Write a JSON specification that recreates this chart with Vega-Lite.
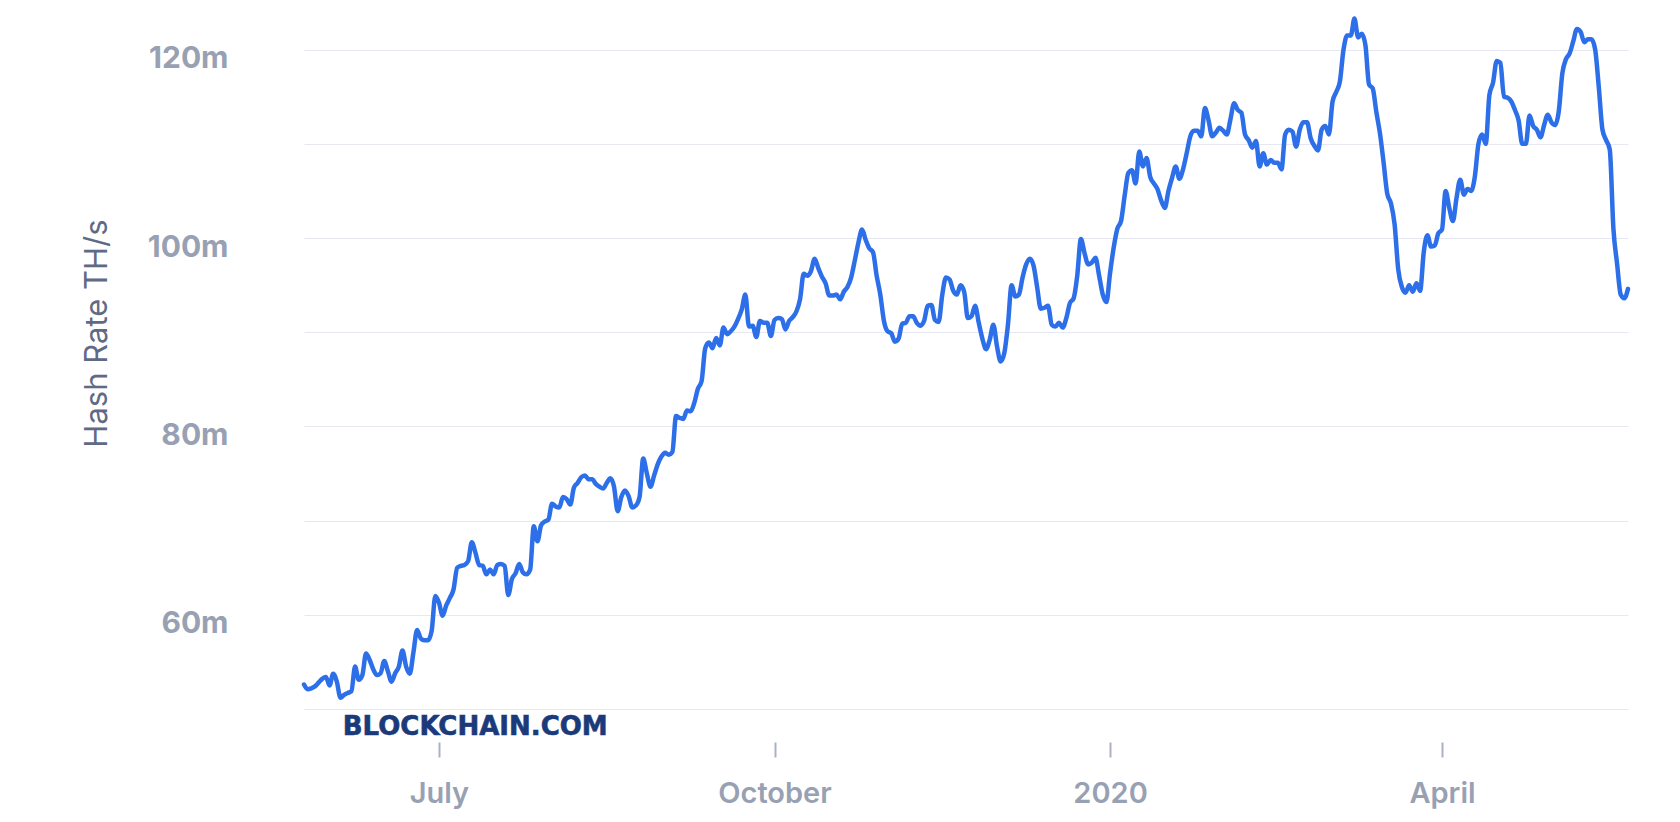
{
  "$schema": "https://vega.github.io/schema/vega-lite/v6.json",
  "width": 1324,
  "height": 697,
  "autosize": {"type": "none"},
  "padding": {"left": 304, "top": 12, "right": 52, "bottom": 113},
  "background": "white",
  "config": {"view": {"stroke": null}},
  "layer": [
    {
      "data": {"values": [
{"date":"2019-05-25","hashrate":52.6},{"date":"2019-05-26","hashrate":52.1},{"date":"2019-05-27","hashrate":52.2},{"date":"2019-05-28","hashrate":52.4},{"date":"2019-05-29","hashrate":52.8},{"date":"2019-05-30","hashrate":53.2},{"date":"2019-05-31","hashrate":53.4},
{"date":"2019-06-01","hashrate":52.5},{"date":"2019-06-02","hashrate":53.75},{"date":"2019-06-03","hashrate":52.9},{"date":"2019-06-04","hashrate":51.2},{"date":"2019-06-05","hashrate":51.5},{"date":"2019-06-06","hashrate":51.7},{"date":"2019-06-07","hashrate":51.9},{"date":"2019-06-08","hashrate":54.5},{"date":"2019-06-09","hashrate":53.1},{"date":"2019-06-10","hashrate":53.6},{"date":"2019-06-11","hashrate":55.9},{"date":"2019-06-12","hashrate":55.2},{"date":"2019-06-13","hashrate":54.2},{"date":"2019-06-14","hashrate":53.6},{"date":"2019-06-15","hashrate":53.8},{"date":"2019-06-16","hashrate":55.1},{"date":"2019-06-17","hashrate":54.0},{"date":"2019-06-18","hashrate":52.9},{"date":"2019-06-19","hashrate":53.8},{"date":"2019-06-20","hashrate":54.5},{"date":"2019-06-21","hashrate":56.2},{"date":"2019-06-22","hashrate":54.5},{"date":"2019-06-23","hashrate":53.75},{"date":"2019-06-24","hashrate":56.0},{"date":"2019-06-25","hashrate":58.4},{"date":"2019-06-26","hashrate":57.5},{"date":"2019-06-27","hashrate":57.3},{"date":"2019-06-28","hashrate":57.3},{"date":"2019-06-29","hashrate":58.3},{"date":"2019-06-30","hashrate":62.0},
{"date":"2019-07-01","hashrate":61.3},{"date":"2019-07-02","hashrate":59.9},{"date":"2019-07-03","hashrate":61.0},{"date":"2019-07-04","hashrate":61.8},{"date":"2019-07-05","hashrate":62.7},{"date":"2019-07-06","hashrate":65.0},{"date":"2019-07-07","hashrate":65.2},{"date":"2019-07-08","hashrate":65.3},{"date":"2019-07-09","hashrate":65.7},{"date":"2019-07-10","hashrate":67.7},{"date":"2019-07-11","hashrate":66.6},{"date":"2019-07-12","hashrate":65.3},{"date":"2019-07-13","hashrate":65.2},{"date":"2019-07-14","hashrate":64.3},{"date":"2019-07-15","hashrate":64.8},{"date":"2019-07-16","hashrate":64.3},{"date":"2019-07-17","hashrate":65.3},{"date":"2019-07-18","hashrate":65.4},{"date":"2019-07-19","hashrate":65.2},{"date":"2019-07-20","hashrate":62.1},{"date":"2019-07-21","hashrate":63.8},{"date":"2019-07-22","hashrate":64.4},{"date":"2019-07-23","hashrate":65.4},{"date":"2019-07-24","hashrate":64.5},{"date":"2019-07-25","hashrate":64.3},{"date":"2019-07-26","hashrate":64.8},{"date":"2019-07-27","hashrate":69.4},{"date":"2019-07-28","hashrate":67.8},{"date":"2019-07-29","hashrate":69.5},{"date":"2019-07-30","hashrate":69.9},{"date":"2019-07-31","hashrate":70.1},
{"date":"2019-08-01","hashrate":71.8},{"date":"2019-08-02","hashrate":71.5},{"date":"2019-08-03","hashrate":71.4},{"date":"2019-08-04","hashrate":72.5},{"date":"2019-08-05","hashrate":72.3},{"date":"2019-08-06","hashrate":71.7},{"date":"2019-08-07","hashrate":73.5},{"date":"2019-08-08","hashrate":74.0},{"date":"2019-08-09","hashrate":74.6},{"date":"2019-08-10","hashrate":74.8},{"date":"2019-08-11","hashrate":74.4},{"date":"2019-08-12","hashrate":74.4},{"date":"2019-08-13","hashrate":73.9},{"date":"2019-08-14","hashrate":73.6},{"date":"2019-08-15","hashrate":73.4},{"date":"2019-08-16","hashrate":74.0},{"date":"2019-08-17","hashrate":74.5},{"date":"2019-08-18","hashrate":73.6},{"date":"2019-08-19","hashrate":71.0},{"date":"2019-08-20","hashrate":72.5},{"date":"2019-08-21","hashrate":73.2},{"date":"2019-08-22","hashrate":72.6},{"date":"2019-08-23","hashrate":71.4},{"date":"2019-08-24","hashrate":71.6},{"date":"2019-08-25","hashrate":72.5},{"date":"2019-08-26","hashrate":76.6},{"date":"2019-08-27","hashrate":75.0},{"date":"2019-08-28","hashrate":73.6},{"date":"2019-08-29","hashrate":74.8},{"date":"2019-08-30","hashrate":76.0},{"date":"2019-08-31","hashrate":76.8},
{"date":"2019-09-01","hashrate":77.2},{"date":"2019-09-02","hashrate":77.0},{"date":"2019-09-03","hashrate":77.3},{"date":"2019-09-04","hashrate":81.1},{"date":"2019-09-05","hashrate":80.9},{"date":"2019-09-06","hashrate":80.8},{"date":"2019-09-07","hashrate":81.7},{"date":"2019-09-08","hashrate":81.6},{"date":"2019-09-09","hashrate":82.5},{"date":"2019-09-10","hashrate":84.0},{"date":"2019-09-11","hashrate":84.8},{"date":"2019-09-12","hashrate":88.3},{"date":"2019-09-13","hashrate":88.9},{"date":"2019-09-14","hashrate":88.3},{"date":"2019-09-15","hashrate":89.4},{"date":"2019-09-16","hashrate":88.6},{"date":"2019-09-17","hashrate":90.5},{"date":"2019-09-18","hashrate":89.8},{"date":"2019-09-19","hashrate":90.1},{"date":"2019-09-20","hashrate":90.6},{"date":"2019-09-21","hashrate":91.4},{"date":"2019-09-22","hashrate":92.4},{"date":"2019-09-23","hashrate":94.0},{"date":"2019-09-24","hashrate":90.6},{"date":"2019-09-25","hashrate":90.7},{"date":"2019-09-26","hashrate":89.5},{"date":"2019-09-27","hashrate":91.2},{"date":"2019-09-28","hashrate":91.0},{"date":"2019-09-29","hashrate":91.0},{"date":"2019-09-30","hashrate":89.6},
{"date":"2019-10-01","hashrate":91.3},{"date":"2019-10-02","hashrate":91.5},{"date":"2019-10-03","hashrate":91.4},{"date":"2019-10-04","hashrate":90.3},{"date":"2019-10-05","hashrate":91.2},{"date":"2019-10-06","hashrate":91.6},{"date":"2019-10-07","hashrate":92.2},{"date":"2019-10-08","hashrate":93.5},{"date":"2019-10-09","hashrate":96.2},{"date":"2019-10-10","hashrate":96.0},{"date":"2019-10-11","hashrate":96.5},{"date":"2019-10-12","hashrate":97.8},{"date":"2019-10-13","hashrate":96.8},{"date":"2019-10-14","hashrate":95.9},{"date":"2019-10-15","hashrate":95.2},{"date":"2019-10-16","hashrate":93.9},{"date":"2019-10-17","hashrate":93.9},{"date":"2019-10-18","hashrate":94.0},{"date":"2019-10-19","hashrate":93.5},{"date":"2019-10-20","hashrate":94.3},{"date":"2019-10-21","hashrate":94.8},{"date":"2019-10-22","hashrate":95.8},{"date":"2019-10-23","hashrate":97.6},{"date":"2019-10-24","hashrate":99.5},{"date":"2019-10-25","hashrate":100.9},{"date":"2019-10-26","hashrate":99.8},{"date":"2019-10-27","hashrate":98.9},{"date":"2019-10-28","hashrate":98.5},{"date":"2019-10-29","hashrate":96.0},{"date":"2019-10-30","hashrate":94.0},{"date":"2019-10-31","hashrate":91.2},
{"date":"2019-11-01","hashrate":90.1},{"date":"2019-11-02","hashrate":89.9},{"date":"2019-11-03","hashrate":89.0},{"date":"2019-11-04","hashrate":89.3},{"date":"2019-11-05","hashrate":90.9},{"date":"2019-11-06","hashrate":91.0},{"date":"2019-11-07","hashrate":91.7},{"date":"2019-11-08","hashrate":91.7},{"date":"2019-11-09","hashrate":91.0},{"date":"2019-11-10","hashrate":90.7},{"date":"2019-11-11","hashrate":91.2},{"date":"2019-11-12","hashrate":92.8},{"date":"2019-11-13","hashrate":92.9},{"date":"2019-11-14","hashrate":91.3},{"date":"2019-11-15","hashrate":91.1},{"date":"2019-11-16","hashrate":94.0},{"date":"2019-11-17","hashrate":95.8},{"date":"2019-11-18","hashrate":95.6},{"date":"2019-11-19","hashrate":94.4},{"date":"2019-11-20","hashrate":94.0},{"date":"2019-11-21","hashrate":95.0},{"date":"2019-11-22","hashrate":94.3},{"date":"2019-11-23","hashrate":91.5},{"date":"2019-11-24","hashrate":91.7},{"date":"2019-11-25","hashrate":92.8},{"date":"2019-11-26","hashrate":91.0},{"date":"2019-11-27","hashrate":89.3},{"date":"2019-11-28","hashrate":88.2},{"date":"2019-11-29","hashrate":89.2},{"date":"2019-11-30","hashrate":90.8},
{"date":"2019-12-01","hashrate":88.5},{"date":"2019-12-02","hashrate":86.9},{"date":"2019-12-03","hashrate":87.8},{"date":"2019-12-04","hashrate":90.8},{"date":"2019-12-05","hashrate":95.0},{"date":"2019-12-06","hashrate":93.8},{"date":"2019-12-07","hashrate":94.0},{"date":"2019-12-08","hashrate":95.8},{"date":"2019-12-09","hashrate":97.2},{"date":"2019-12-10","hashrate":97.8},{"date":"2019-12-11","hashrate":97.1},{"date":"2019-12-12","hashrate":94.8},{"date":"2019-12-13","hashrate":92.5},{"date":"2019-12-14","hashrate":92.6},{"date":"2019-12-15","hashrate":92.8},{"date":"2019-12-16","hashrate":90.8},{"date":"2019-12-17","hashrate":90.6},{"date":"2019-12-18","hashrate":91.0},{"date":"2019-12-19","hashrate":90.5},{"date":"2019-12-20","hashrate":91.5},{"date":"2019-12-21","hashrate":93.1},{"date":"2019-12-22","hashrate":93.6},{"date":"2019-12-23","hashrate":96.0},{"date":"2019-12-24","hashrate":99.9},{"date":"2019-12-25","hashrate":98.4},{"date":"2019-12-26","hashrate":97.2},{"date":"2019-12-27","hashrate":97.4},{"date":"2019-12-28","hashrate":97.9},{"date":"2019-12-29","hashrate":96.0},{"date":"2019-12-30","hashrate":94.0},{"date":"2019-12-31","hashrate":93.2},
{"date":"2020-01-01","hashrate":96.3},{"date":"2020-01-02","hashrate":99.0},{"date":"2020-01-03","hashrate":101.0},{"date":"2020-01-04","hashrate":101.8},{"date":"2020-01-05","hashrate":104.5},{"date":"2020-01-06","hashrate":106.9},{"date":"2020-01-07","hashrate":107.2},{"date":"2020-01-08","hashrate":105.8},{"date":"2020-01-09","hashrate":109.2},{"date":"2020-01-10","hashrate":107.6},{"date":"2020-01-11","hashrate":108.5},{"date":"2020-01-12","hashrate":106.5},{"date":"2020-01-13","hashrate":105.8},{"date":"2020-01-14","hashrate":105.2},{"date":"2020-01-15","hashrate":104.0},{"date":"2020-01-16","hashrate":103.2},{"date":"2020-01-17","hashrate":105.0},{"date":"2020-01-18","hashrate":106.4},{"date":"2020-01-19","hashrate":107.6},{"date":"2020-01-20","hashrate":106.3},{"date":"2020-01-21","hashrate":107.3},{"date":"2020-01-22","hashrate":109.0},{"date":"2020-01-23","hashrate":110.8},{"date":"2020-01-24","hashrate":111.4},{"date":"2020-01-25","hashrate":111.4},{"date":"2020-01-26","hashrate":110.8},{"date":"2020-01-27","hashrate":113.8},{"date":"2020-01-28","hashrate":112.5},{"date":"2020-01-29","hashrate":110.8},{"date":"2020-01-30","hashrate":111.2},{"date":"2020-01-31","hashrate":111.7},
{"date":"2020-02-01","hashrate":111.4},{"date":"2020-02-02","hashrate":111.0},{"date":"2020-02-03","hashrate":112.6},{"date":"2020-02-04","hashrate":114.3},{"date":"2020-02-05","hashrate":113.6},{"date":"2020-02-06","hashrate":113.3},{"date":"2020-02-07","hashrate":111.0},{"date":"2020-02-08","hashrate":110.4},{"date":"2020-02-09","hashrate":109.6},{"date":"2020-02-10","hashrate":110.3},{"date":"2020-02-11","hashrate":107.6},{"date":"2020-02-12","hashrate":109.0},{"date":"2020-02-13","hashrate":107.8},{"date":"2020-02-14","hashrate":108.3},{"date":"2020-02-15","hashrate":108.0},{"date":"2020-02-16","hashrate":108.0},{"date":"2020-02-17","hashrate":107.3},{"date":"2020-02-18","hashrate":111.0},{"date":"2020-02-19","hashrate":111.5},{"date":"2020-02-20","hashrate":111.3},{"date":"2020-02-21","hashrate":109.7},{"date":"2020-02-22","hashrate":111.5},{"date":"2020-02-23","hashrate":112.3},{"date":"2020-02-24","hashrate":112.3},{"date":"2020-02-25","hashrate":110.6},{"date":"2020-02-26","hashrate":109.8},{"date":"2020-02-27","hashrate":109.3},{"date":"2020-02-28","hashrate":111.5},{"date":"2020-02-29","hashrate":111.9},
{"date":"2020-03-01","hashrate":111.0},{"date":"2020-03-02","hashrate":114.5},{"date":"2020-03-03","hashrate":115.5},{"date":"2020-03-04","hashrate":116.6},{"date":"2020-03-05","hashrate":120.0},{"date":"2020-03-06","hashrate":121.5},{"date":"2020-03-07","hashrate":121.5},{"date":"2020-03-08","hashrate":123.3},{"date":"2020-03-09","hashrate":121.3},{"date":"2020-03-10","hashrate":121.7},{"date":"2020-03-11","hashrate":120.5},{"date":"2020-03-12","hashrate":116.3},{"date":"2020-03-13","hashrate":115.9},{"date":"2020-03-14","hashrate":113.4},{"date":"2020-03-15","hashrate":111.1},{"date":"2020-03-16","hashrate":108.0},{"date":"2020-03-17","hashrate":104.7},{"date":"2020-03-18","hashrate":103.7},{"date":"2020-03-19","hashrate":101.5},{"date":"2020-03-20","hashrate":96.7},{"date":"2020-03-21","hashrate":94.8},{"date":"2020-03-22","hashrate":94.2},{"date":"2020-03-23","hashrate":95.0},{"date":"2020-03-24","hashrate":94.3},{"date":"2020-03-25","hashrate":95.2},{"date":"2020-03-26","hashrate":94.4},{"date":"2020-03-27","hashrate":98.5},{"date":"2020-03-28","hashrate":100.3},{"date":"2020-03-29","hashrate":99.1},{"date":"2020-03-30","hashrate":99.2},{"date":"2020-03-31","hashrate":100.5},
{"date":"2020-04-01","hashrate":100.9},{"date":"2020-04-02","hashrate":105.0},{"date":"2020-04-03","hashrate":103.2},{"date":"2020-04-04","hashrate":101.8},{"date":"2020-04-05","hashrate":104.3},{"date":"2020-04-06","hashrate":106.2},{"date":"2020-04-07","hashrate":104.6},{"date":"2020-04-08","hashrate":105.2},{"date":"2020-04-09","hashrate":105.0},{"date":"2020-04-10","hashrate":106.5},{"date":"2020-04-11","hashrate":110.0},{"date":"2020-04-12","hashrate":111.0},{"date":"2020-04-13","hashrate":110.0},{"date":"2020-04-14","hashrate":115.2},{"date":"2020-04-15","hashrate":116.5},{"date":"2020-04-16","hashrate":118.8},{"date":"2020-04-17","hashrate":118.6},{"date":"2020-04-18","hashrate":115.0},{"date":"2020-04-19","hashrate":114.9},{"date":"2020-04-20","hashrate":114.5},{"date":"2020-04-21","hashrate":113.6},{"date":"2020-04-22","hashrate":112.5},{"date":"2020-04-23","hashrate":110.0},{"date":"2020-04-24","hashrate":110.0},{"date":"2020-04-25","hashrate":113.0},{"date":"2020-04-26","hashrate":111.9},{"date":"2020-04-27","hashrate":111.5},{"date":"2020-04-28","hashrate":110.7},{"date":"2020-04-29","hashrate":112.0},{"date":"2020-04-30","hashrate":113.1},
{"date":"2020-05-01","hashrate":112.3},{"date":"2020-05-02","hashrate":112.0},{"date":"2020-05-03","hashrate":113.4},{"date":"2020-05-04","hashrate":117.5},{"date":"2020-05-05","hashrate":119.0},{"date":"2020-05-06","hashrate":119.6},{"date":"2020-05-07","hashrate":120.9},{"date":"2020-05-08","hashrate":122.2},{"date":"2020-05-09","hashrate":121.9},{"date":"2020-05-10","hashrate":120.8},{"date":"2020-05-11","hashrate":121.1},{"date":"2020-05-12","hashrate":121.1},{"date":"2020-05-13","hashrate":120.0},{"date":"2020-05-14","hashrate":116.0},{"date":"2020-05-15","hashrate":111.5},{"date":"2020-05-16","hashrate":110.4},{"date":"2020-05-17","hashrate":109.4},{"date":"2020-05-18","hashrate":101.0},{"date":"2020-05-19","hashrate":97.3},{"date":"2020-05-20","hashrate":94.0},{"date":"2020-05-21","hashrate":93.6},{"date":"2020-05-22","hashrate":94.6}
      ]},
      "mark": {"type": "line", "interpolate": "monotone", "color": "#2d6fe8", "strokeWidth": 4.5, "clip": false, "strokeJoin": "round", "strokeCap": "round"},
      "encoding": {
        "x": {
          "field": "date", "type": "temporal",
          "scale": {"type": "utc", "domain": [{"year": 2019, "month": 5, "date": 25, "utc": true}, {"year": 2020, "month": 5, "date": 22, "utc": true}]},
          "axis": {
            "title": null,
            "values": [{"year": 2019, "month": 7, "date": 1, "utc": true}, {"year": 2019, "month": 10, "date": 1, "utc": true}, {"year": 2020, "month": 1, "date": 1, "utc": true}, {"year": 2020, "month": 4, "date": 1, "utc": true}],
            "labelExpr": "utcFormat(datum.value, '%m') == '01' ? utcFormat(datum.value, '%Y') : utcFormat(datum.value, '%B')",
            "domain": false, "grid": false, "offset": 33,
            "ticks": true, "tickSize": 15, "tickColor": "#aab2c0", "tickWidth": 2,
            "labelPadding": 22, "labelFont": "Inter", "labelFontWeight": 600, "labelFontSize": 29, "labelColor": "#98a1b3",
            "labelFlush": false, "labelOverlap": false
          }
        },
        "y": {
          "field": "hashrate", "type": "quantitative",
          "scale": {"domain": [50, 124], "nice": false, "zero": false},
          "axis": {
            "title": "Hash Rate TH/s",
            "values": [50, 60, 70, 80, 90, 100, 110, 120],
            "labelExpr": "datum.value % 20 == 0 ? datum.value + 'm' : ''",
            "domain": false, "ticks": false, "tickSize": 0,
            "labelPadding": 76, "labelFont": "Inter", "labelFontWeight": 700, "labelFontSize": 30, "labelColor": "#98a1b3",
            "labelOffset": 9, "labelBaseline": "middle", "labelOverlap": false,
            "grid": true, "gridColor": "#e6e8f1", "gridWidth": 1,
            "titleFont": "Inter", "titleFontSize": 31, "titleFontWeight": 400, "titleColor": "#5f6a85",
            "titlePadding": 34, "titleY": 321
          }
        }
      }
    },
    {
      "data": {"values": [{"label": "BLOCKCHAIN.COM", "date": "2019-06-04T15:00:00Z", "hashrate": 47.24}]},
      "mark": {"type": "text", "font": "DejaVu Sans", "fontWeight": "bold", "fontSize": 26, "color": "#1b3a7a", "align": "left", "baseline": "alphabetic", "clip": false, "stroke": "#1b3a7a", "strokeWidth": 0.6},
      "encoding": {
        "x": {"field": "date", "type": "temporal"},
        "y": {"field": "hashrate", "type": "quantitative"},
        "text": {"field": "label"}
      }
    }
  ]
}
